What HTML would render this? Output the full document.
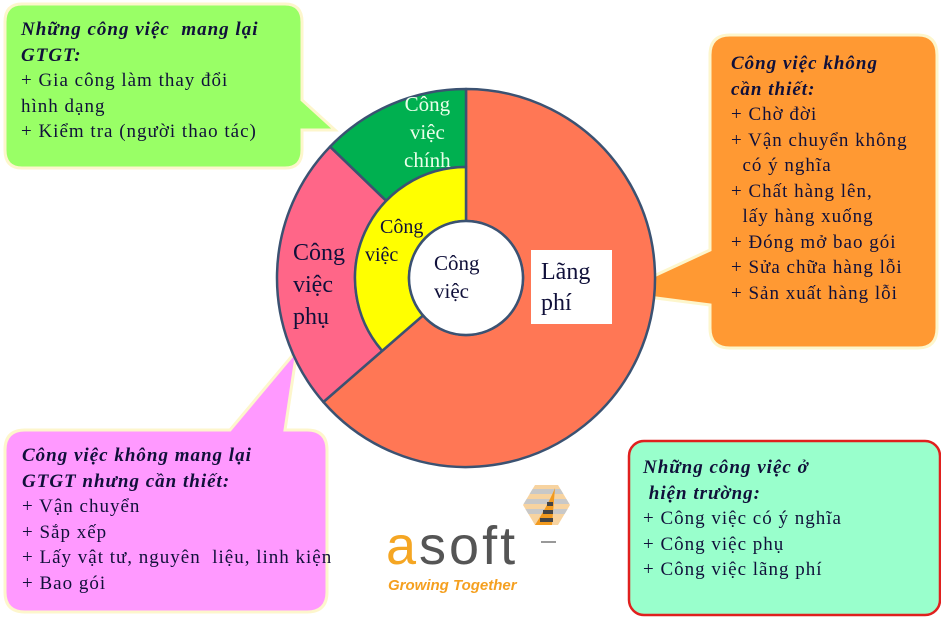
<!DOCTYPE html>
<html><head><meta charset="utf-8"><style>
body{margin:0;width:941px;height:618px;background:#fff;overflow:hidden;position:relative;font-family:"Liberation Serif",serif;color:#10103a}
svg{position:absolute;left:0;top:0}
.t{position:absolute;font-size:19px;line-height:25.5px;letter-spacing:1px;white-space:pre}
.t b{font-style:italic}
</style></head><body>
<svg width="941" height="618">
<g stroke="#fdf6cc" stroke-width="3">
<path d="M22,4 H285 Q302,4 302,22 V100 L335,130 L302,130 V150 Q302,168 285,168 H22 Q5,168 5,150 V22 Q5,4 22,4 Z" fill="#99ff66"/>
<path d="M730,35 H918 Q937,35 937,55 V328 Q937,348 918,348 H730 Q710,348 710,328 V305 L617,293 L710,250 V55 Q710,35 730,35 Z" fill="#ff9933"/>
<path d="M25,430 H230 L297,350 L285,430 H307 Q327,430 327,450 V592 Q327,612 307,612 H25 Q5,612 5,592 V450 Q5,430 25,430 Z" fill="#ff99ff"/>
</g>
<rect x="629" y="441" width="311" height="174" rx="15" fill="#99ffcc" stroke="#e0201e" stroke-width="2.5"/>
<g stroke="#3b5272" stroke-width="2.5" stroke-linejoin="round">
<path d="M466,89 A189,189 0 1 1 323.4,402 L423,315.4 A57,57 0 1 0 466,221 Z" fill="#ff7755"/>
<path d="M466,89 A189,189 0 0 0 330,146.7 L386.2,200.9 A111,111 0 0 1 466,167 Z" fill="#00b050"/>
<path d="M330,146.7 A189,189 0 0 0 323.4,402 L382.2,350.8 A111,111 0 0 1 386.2,200.9 Z" fill="#ff6688"/>
<path d="M466,167 A111,111 0 0 0 382.2,350.8 L423,315.4 A57,57 0 0 1 466,221 Z" fill="#ffff00"/>
<circle cx="466" cy="278" r="57" fill="#fff"/>
</g>
<rect x="531" y="250" width="81" height="74" fill="#fff"/>
<defs><clipPath id="hx"><polygon points="523,505 535,485 558,485 570,505 558,525 535,525"/></clipPath></defs>
<g clip-path="url(#hx)">
<rect x="520" y="483" width="52" height="45" fill="#f7d3a0"/>
<rect x="520" y="489" width="52" height="5" fill="#c8c8c8"/>
<rect x="520" y="499" width="52" height="5" fill="#c8c8c8"/>
<rect x="520" y="509" width="52" height="5" fill="#c8c8c8"/>
<path d="M535,525 Q548,505 555,488 L552,525 Z" fill="#f29a1e"/>
<path d="M540,520 L553,520 M543,512 L553,512 M547,504 L553,504" stroke="#444" stroke-width="4"/>
</g>
<rect x="541" y="541" width="15" height="2" fill="#999"/>
</svg>
<div class="t" style="left:21px;top:17px"><b>Những công việc  mang lại
GTGT:</b>
+ Gia công làm thay đổi
hình dạng
+ Kiểm tra (người thao tác)</div>
<div class="t" style="left:731px;top:51px"><b>Công việc không
cần thiết:</b>
+ Chờ đời
+ Vận chuyển không
  có ý nghĩa
+ Chất hàng lên,
  lấy hàng xuống
+ Đóng mở bao gói
+ Sửa chữa hàng lỗi
+ Sản xuất hàng lỗi</div>
<div class="t" style="left:22px;top:443px"><b>Công việc không mang lại
GTGT nhưng cần thiết:</b>
+ Vận chuyển
+ Sắp xếp
+ Lấy vật tư, nguyên  liệu, linh kiện
+ Bao gói</div>
<div class="t" style="left:643px;top:455px"><b>Những công việc ở
 hiện trường:</b>
+ Công việc có ý nghĩa
+ Công việc phụ
+ Công việc lãng phí</div>
<div class="t" style="left:404px;top:90px;color:#eaffea;font-size:21px;line-height:28px;letter-spacing:0;text-align:center">Công
việc
chính</div>
<div class="t" style="left:293px;top:237px;font-size:24px;line-height:32px;letter-spacing:0">Công
việc
phụ</div>
<div class="t" style="left:365px;top:213px;font-size:20px;line-height:28px;letter-spacing:0">   Công
việc</div>
<div class="t" style="left:434px;top:249px;font-size:21px;line-height:28px;letter-spacing:0">Công
việc</div>
<div class="t" style="left:541px;top:257px;font-size:24px;line-height:31px;letter-spacing:0">Lãng
phí</div>
<div style="position:absolute;left:386px;top:519px;font-family:'Liberation Sans',sans-serif;font-size:54px;line-height:54px;letter-spacing:3px"><span style="color:#f5a623">a</span><span style="color:#555">soft</span></div>
<div style="position:absolute;left:388px;top:577px;font-family:'Liberation Sans',sans-serif;font-size:15px;font-weight:bold;font-style:italic;color:#f5a020">Growing Together</div>
</body></html>
